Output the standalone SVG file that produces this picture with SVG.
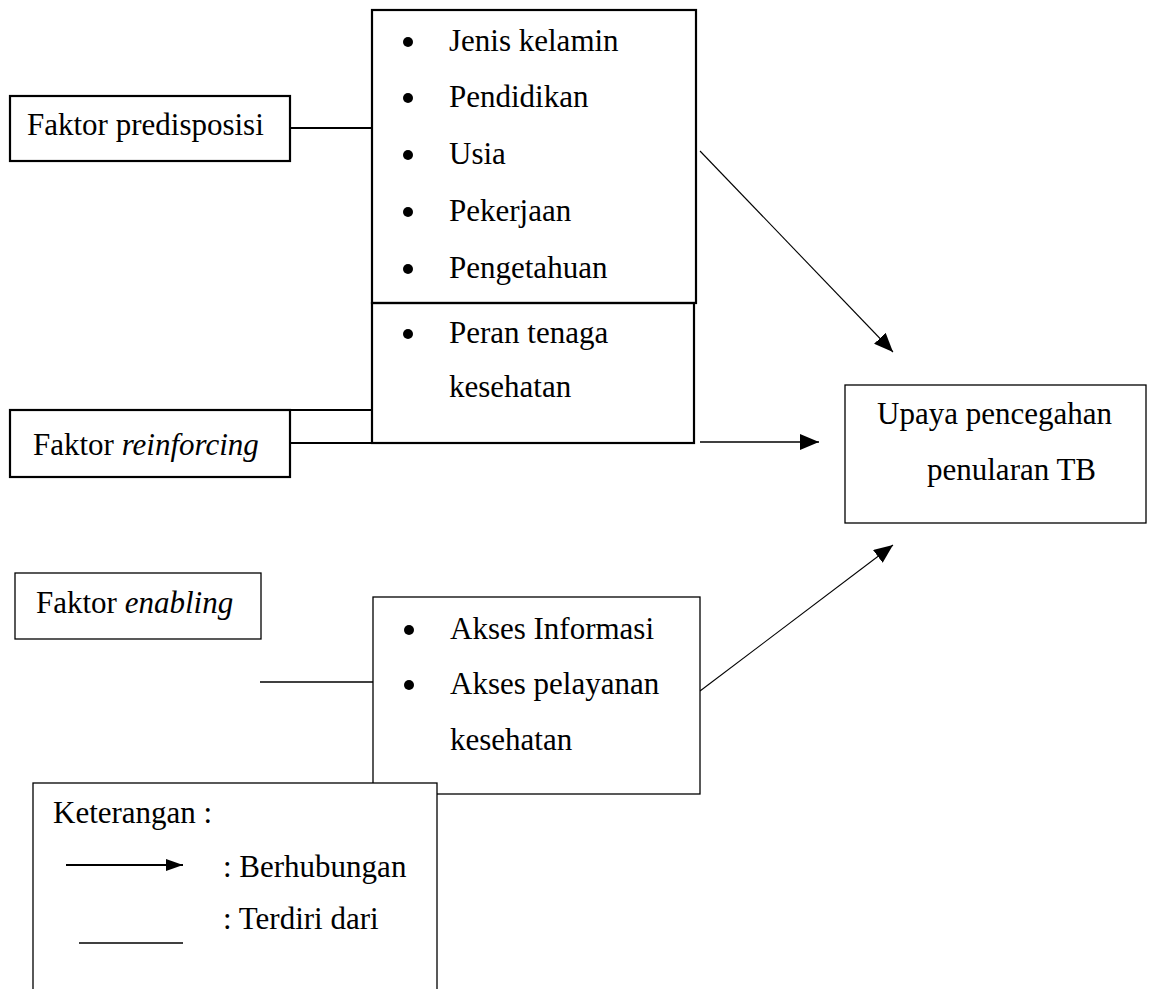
<svg xmlns="http://www.w3.org/2000/svg" width="1153" height="989" viewBox="0 0 1153 989">
<style>
text{font-family:"Liberation Serif","Times New Roman",serif;font-size:31px;fill:#000}
.it{font-style:italic}
.thick{fill:none;stroke:#000;stroke-width:2.2}
.thin{fill:#fff;stroke:#000;stroke-width:1.3}
.ln{stroke:#000;stroke-width:2;fill:none}
.ln1{stroke:#000;stroke-width:1.3;fill:none}
.arr{stroke:#000;stroke-width:1.1;fill:none}
</style>
<defs>
<marker id="ah" markerUnits="userSpaceOnUse" markerWidth="20" markerHeight="16" viewBox="0 0 20 16" refX="19" refY="8" orient="auto">
<path d="M0,0 L19,8 L0,16 Z" fill="#000"/>
</marker>
<marker id="ahs" markerUnits="userSpaceOnUse" markerWidth="18" markerHeight="12" viewBox="0 0 18 12" refX="17" refY="6" orient="auto">
<path d="M0,0 L17,6 L0,12 Z" fill="#000"/>
</marker>
</defs>
<rect width="1153" height="989" fill="#fff"/>

<g id="connectors">
<line class="ln" x1="290" y1="128" x2="372" y2="128"/>
<line class="ln" x1="290" y1="410" x2="372" y2="410"/>
<line class="ln" x1="290" y1="443" x2="372" y2="443"/>
<line class="ln1" x1="260" y1="682" x2="373" y2="682"/>
<line class="arr" x1="700" y1="151" x2="893" y2="352" marker-end="url(#ah)"/>
<line class="ln1" x1="700" y1="442" x2="819" y2="442" marker-end="url(#ah)"/>
<line class="arr" x1="700" y1="691" x2="893" y2="545" marker-end="url(#ah)"/>
</g>

<g id="node-predisposisi">
<rect class="thick" x="10" y="96" width="280" height="65"/>
<text x="27" y="135">Faktor predisposisi</text>
</g>

<g id="node-reinforcing">
<rect class="thick" x="10" y="410" width="280" height="67"/>
<text x="33" y="455">Faktor <tspan class="it">reinforcing</tspan></text>
</g>

<g id="node-enabling">
<rect class="thin" x="15" y="573" width="246" height="66"/>
<text x="36" y="613">Faktor <tspan class="it">enabling</tspan></text>
</g>

<g id="node-predisposisi-list">
<rect class="thick" x="372" y="10" width="324" height="293"/>
<circle cx="408" cy="42" r="5"/><text x="449" y="51">Jenis kelamin</text>
<circle cx="408" cy="98" r="5"/><text x="449" y="107">Pendidikan</text>
<circle cx="408" cy="155" r="5"/><text x="449" y="164">Usia</text>
<circle cx="408" cy="212" r="5"/><text x="449" y="221">Pekerjaan</text>
<circle cx="408" cy="269" r="5"/><text x="449" y="278">Pengetahuan</text>
</g>

<g id="node-reinforcing-list">
<rect class="thick" x="372" y="303" width="322" height="140"/>
<circle cx="408" cy="334" r="5"/><text x="449" y="343">Peran tenaga</text>
<text x="449" y="397">kesehatan</text>
</g>

<g id="node-enabling-list">
<rect class="thin" x="373" y="597" width="327" height="197"/>
<circle cx="409" cy="630" r="5"/><text x="450" y="639">Akses Informasi</text>
<circle cx="409" cy="685" r="5"/><text x="450" y="694">Akses pelayanan</text>
<text x="450" y="750">kesehatan</text>
</g>

<g id="node-upaya">
<rect class="thin" x="845" y="385" width="301" height="138"/>
<text x="877" y="424">Upaya pencegahan</text>
<text x="927" y="480">penularan TB</text>
</g>

<g id="legend">
<rect class="thin" x="33" y="783" width="404" height="220"/>
<text x="53" y="823">Keterangan :</text>
<line x1="66" y1="865" x2="183" y2="865" stroke="#000" stroke-width="2" marker-end="url(#ahs)"/>
<text x="223" y="877">: Berhubungan</text>
<text x="223" y="929">: Terdiri dari</text>
<line x1="79" y1="943" x2="183" y2="943" stroke="#000" stroke-width="1.3"/>
</g>
</svg>
